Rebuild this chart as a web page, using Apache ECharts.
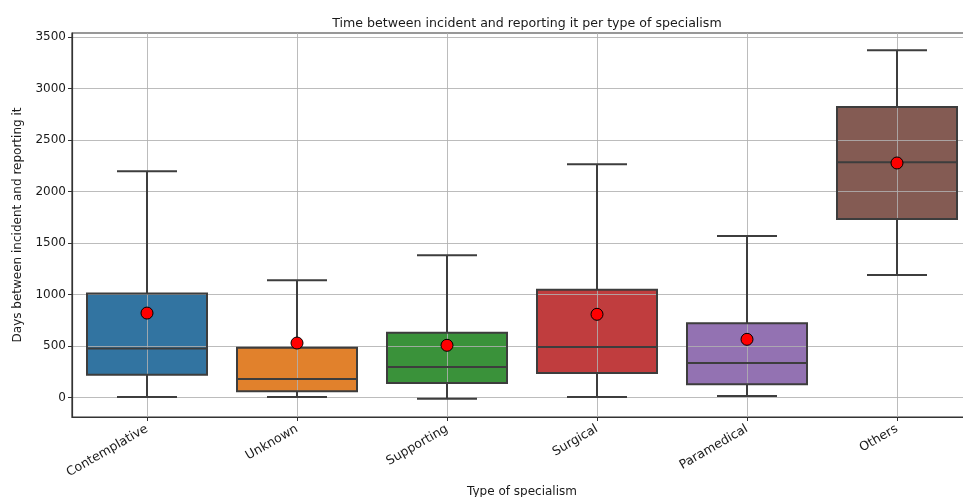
<!DOCTYPE html>
<html>
<head>
<meta charset="utf-8">
<script src="https://cdn.jsdelivr.net/npm/echarts@6/dist/echarts.min.js"></script>
<style>html,body{margin:0;padding:0;background:#fff}#c{width:963px;height:497px}</style>
</head>
<body>
<div id="c"></div>
<script>
const categories = ['Contemplative', 'Unknown', 'Supporting', 'Surgical', 'Paramedical', 'Others'];
const whiskerLow = [6, 5, -10, 6, 16, 1190];
const q1 = [223, 61, 142, 239, 129, 1734];
const median = [476, 181, 297, 491, 336, 2284];
const q3 = [1010, 485, 631, 1048, 721, 2821];
const whiskerHigh = [2197, 1139, 1382, 2265, 1569, 3372];
const means = [821, 530, 508, 809, 566, 2278];
const yTicks = [0, 500, 1000, 1500, 2000, 2500, 3000, 3500];
const boxColors = ['#3274a1', '#e1812c', '#3a923a', '#c03d3e', '#9372b2', '#845b53'];

const xIdx = categories.map((c, i) => i);
const boxData = categories.map((c, i) => [i, whiskerLow[i], q1[i], median[i], q3[i], whiskerHigh[i]]);
const meanData = categories.map((c, i) => [i, means[i]]);

const edge = '#3d3d3d';
const lw = 2;

function geom(api) {
  const x = api.value(0);
  return {
    lo: api.coord([x, api.value(1)]),
    b1: api.coord([x - 0.4, api.value(2)]),
    b2: api.coord([x + 0.4, api.value(4)]),
    md1: api.coord([x - 0.4, api.value(3)]),
    md2: api.coord([x + 0.4, api.value(3)]),
    hi: api.coord([x, api.value(5)]),
    capL: api.coord([x - 0.2, 0])[0],
    capR: api.coord([x + 0.2, 0])[0]
  };
}

function renderFill(params, api) {
  const g = geom(api);
  return { type: 'rect', shape: { x: g.b1[0], y: g.b2[1], width: g.b2[0] - g.b1[0], height: g.b1[1] - g.b2[1] },
    style: { fill: boxColors[params.dataIndex] } };
}

function renderLines(params, api) {
  const g = geom(api);
  const ls = { stroke: edge, lineWidth: lw, fill: null };
  return {
    type: 'group',
    children: [
      { type: 'line', shape: { x1: g.lo[0], y1: g.lo[1], x2: g.lo[0], y2: g.b1[1] }, style: ls },
      { type: 'line', shape: { x1: g.hi[0], y1: g.hi[1], x2: g.hi[0], y2: g.b2[1] }, style: ls },
      { type: 'line', shape: { x1: g.capL, y1: g.lo[1], x2: g.capR, y2: g.lo[1] }, style: ls },
      { type: 'line', shape: { x1: g.capL, y1: g.hi[1], x2: g.capR, y2: g.hi[1] }, style: ls },
      { type: 'rect', shape: { x: g.b1[0], y: g.b2[1], width: g.b2[0] - g.b1[0], height: g.b1[1] - g.b2[1] },
        style: { fill: null, stroke: edge, lineWidth: lw } },
      { type: 'line', shape: { x1: g.md1[0], y1: g.md1[1], x2: g.md2[0], y2: g.md2[1] }, style: ls }
    ]
  };
}

const chart = echarts.init(document.getElementById('c'), null, { renderer: 'canvas' });
const txt = '#1a1a1a';
const font = 'DejaVu Sans';
chart.setOption({
  animation: false,
  title: {
    text: 'Time between incident and reporting it per type of specialism',
    left: 522, top: 12, textAlign: 'center',
    textStyle: { fontFamily: font, fontSize: 12.6, fontWeight: 'normal', color: txt }
  },
  grid: { left: 72, top: 33, width: 900, height: 384, show: true, borderColor: '#333', borderWidth: 1.2,
    containLabel: false, outerBoundsMode: 'none' },
  xAxis: {
    type: 'value', min: -0.5, max: 5.5, z: 3,
    name: 'Type of specialism', nameLocation: 'middle', nameGap: 68,
    nameTextStyle: { fontFamily: font, fontSize: 12, color: txt },
    axisLine: { show: true, onZero: false, lineStyle: { color: '#333', width: 1.2 } },
    axisTick: { show: true, length: 4, customValues: xIdx, lineStyle: { color: '#333' } },
    axisLabel: { customValues: xIdx, rotate: 30, margin: 11, fontFamily: font, fontSize: 12.5, color: txt,
      formatter: v => categories[Math.round(v)] },
    splitLine: { show: true, lineStyle: { color: 'rgba(176,176,176,0.85)', width: 1 } }
  },
  yAxis: {
    type: 'value', min: -188, max: 3540, z: 3,
    name: 'Days between incident and reporting it', nameLocation: 'middle', nameGap: 48,
    nameTextStyle: { fontFamily: font, fontSize: 12, color: txt },
    axisLine: { show: true, onZero: false, lineStyle: { color: '#333', width: 1.2 } },
    axisTick: { show: true, length: 4, customValues: yTicks, lineStyle: { color: '#333' } },
    axisLabel: { customValues: yTicks, margin: 6, fontFamily: font, fontSize: 12, color: txt,
      formatter: v => String(v) },
    splitLine: { show: true, lineStyle: { color: 'rgba(176,176,176,0.85)', width: 1 } }
  },
  series: [
    { type: 'custom', z: 2, renderItem: renderFill, data: boxData, encode: { x: 0, y: [1, 2, 3, 4, 5] } },
    { type: 'custom', z: 4, renderItem: renderLines, data: boxData, encode: { x: 0, y: [1, 2, 3, 4, 5] } },
    { type: 'scatter', z: 5, data: meanData, symbol: 'circle', symbolSize: 12,
      itemStyle: { color: '#ff0000', borderColor: '#000', borderWidth: 1, opacity: 1 } }
  ]
});
</script>
</body>
</html>
